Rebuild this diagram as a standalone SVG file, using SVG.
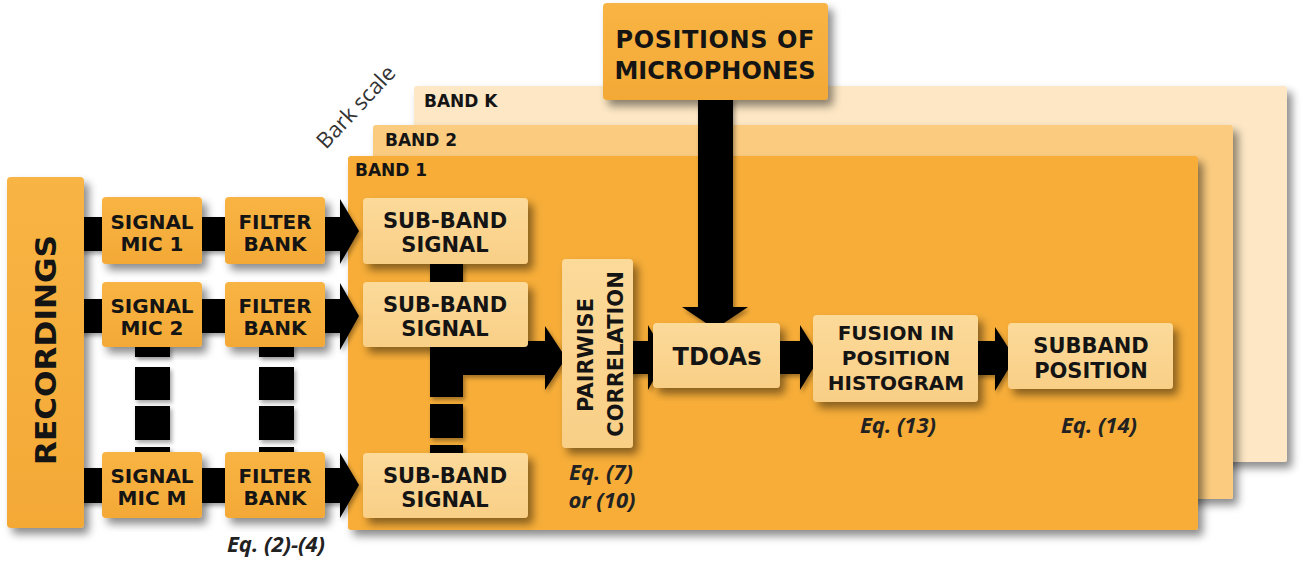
<svg xmlns="http://www.w3.org/2000/svg" width="1303" height="564" viewBox="0 0 1303 564">
<style>
.lbl{font-family:"DejaVu Sans",Verdana,sans-serif;font-weight:bold;fill:#141414;text-anchor:middle}
.band{font-family:"DejaVu Sans",Verdana,sans-serif;font-weight:bold;fill:#141414;font-size:17px}
.eq{font-family:"Open Sans","Liberation Sans",sans-serif;font-style:italic;font-weight:700;fill:#222;font-size:22px;text-anchor:middle}
.outer{fill:url(#gOut);filter:url(#sh)}
.inner{fill:url(#gIn);filter:url(#sh)}
.arr{fill:#000}
</style>
<defs>
<filter id="sh" x="-10%" y="-10%" width="130%" height="130%">
<feDropShadow dx="5" dy="6" stdDeviation="4" flood-color="#000" flood-opacity="0.45"/>
</filter>
<filter id="shs" x="-10%" y="-10%" width="130%" height="130%">
<feDropShadow dx="2" dy="3" stdDeviation="2" flood-color="#000" flood-opacity="0.35"/>
</filter>
<linearGradient id="gOut" x1="0" y1="0" x2="0" y2="1">
<stop offset="0" stop-color="#F8B444"/>
<stop offset="1" stop-color="#F4A936"/>
</linearGradient>
<linearGradient id="gIn" x1="0" y1="0" x2="0" y2="1">
<stop offset="0" stop-color="#FCDA9A"/>
<stop offset="1" stop-color="#F9CF86"/>
</linearGradient>
</defs>
<rect width="1303" height="564" fill="#fff"/>

<g id="bands">
<g id="bandK">
<rect x="414" y="86" width="873" height="376" rx="3" fill="#FDE7C4" filter="url(#sh)"/>
<text class="band" x="424" y="107">BAND K</text>
</g>
<g id="band2">
<rect x="373" y="125" width="860" height="374" rx="3" fill="#FBCC80" filter="url(#sh)"/>
<text class="band" x="385" y="146">BAND 2</text>
</g>
<g id="band1">
<rect x="348" y="156" width="850" height="374" rx="3" fill="#F7AD39" filter="url(#sh)"/>
<text class="band" x="355" y="176">BAND 1</text>
</g>
</g>

<text x="0" y="0" transform="translate(326,150) rotate(-47)" font-family="'Open Sans','Liberation Sans',sans-serif" font-size="22" fill="#333">Bark scale</text>

<g id="connectors" filter="url(#shs)">
<rect class="arr" x="79" y="217" width="25" height="34"/>
<rect class="arr" x="79" y="299" width="25" height="34"/>
<rect class="arr" x="79" y="468" width="25" height="35"/>
<rect class="arr" x="200" y="217" width="27" height="34"/>
<rect class="arr" x="200" y="299" width="27" height="34"/>
<rect class="arr" x="200" y="468" width="27" height="35"/>
<polygon class="arr" points="323,217 340,217 340,199 359,231 340,264 340,251 323,251"/>
<polygon class="arr" points="323,299 340,299 340,283 359,316 340,350 340,333 323,333"/>
<polygon class="arr" points="323,468 340,468 340,453 359,485 340,518 340,503 323,503"/>
<rect class="arr" x="135" y="345" width="35" height="12"/>
<rect class="arr" x="135" y="367" width="35" height="33"/>
<rect class="arr" x="135" y="406" width="35" height="34"/>
<rect class="arr" x="135" y="447" width="35" height="8"/>
<rect class="arr" x="259" y="345" width="35" height="12"/>
<rect class="arr" x="259" y="367" width="35" height="33"/>
<rect class="arr" x="259" y="406" width="35" height="34"/>
<rect class="arr" x="259" y="447" width="35" height="8"/>
<rect class="arr" x="430" y="262" width="33" height="22"/>
<rect class="arr" x="430" y="345" width="33" height="52"/>
<rect class="arr" x="430" y="404" width="33" height="34"/>
<rect class="arr" x="430" y="445" width="33" height="10"/>
<polygon class="arr" points="430,341 545,341 545,326 566,358 545,390 545,375 430,375"/>
<polygon class="arr" points="631,341 648,341 648,325 666,357 648,390 648,374 631,374"/>
<polygon class="arr" points="698,98 733,98 733,307 748,307 715,329 682,307 698,307"/>
<polygon class="arr" points="778,341 800,341 800,325 820,357 800,390 800,374 778,374"/>
<polygon class="arr" points="976,341 995,341 995,327 1015,358 995,391 995,375 976,375"/>
</g>

<g id="recordings">
<rect class="outer" x="7" y="177" width="77" height="351" rx="4"/>
<text class="lbl" font-size="29" transform="translate(56,350) rotate(-90)" textLength="230" lengthAdjust="spacingAndGlyphs">RECORDINGS</text>
</g>

<g id="mic1">
<rect class="outer" x="102" y="197" width="100" height="67" rx="4"/>
<text class="lbl" font-size="20" x="152" y="229">SIGNAL</text>
<text class="lbl" font-size="20" x="152" y="251">MIC 1</text>
</g>
<g id="mic2">
<rect class="outer" x="102" y="282" width="100" height="65" rx="4"/>
<text class="lbl" font-size="20" x="152" y="313">SIGNAL</text>
<text class="lbl" font-size="20" x="152" y="335">MIC 2</text>
</g>
<g id="micM">
<rect class="outer" x="102" y="452" width="100" height="66" rx="4"/>
<text class="lbl" font-size="20" x="152" y="483">SIGNAL</text>
<text class="lbl" font-size="20" x="152" y="505">MIC M</text>
</g>

<g id="filter1">
<rect class="outer" x="225" y="197" width="100" height="67" rx="4"/>
<text class="lbl" font-size="20" x="275" y="229">FILTER</text>
<text class="lbl" font-size="20" x="275" y="251">BANK</text>
</g>
<g id="filter2">
<rect class="outer" x="225" y="282" width="100" height="65" rx="4"/>
<text class="lbl" font-size="20" x="275" y="313">FILTER</text>
<text class="lbl" font-size="20" x="275" y="335">BANK</text>
</g>
<g id="filterM">
<rect class="outer" x="225" y="452" width="100" height="66" rx="4"/>
<text class="lbl" font-size="20" x="275" y="483">FILTER</text>
<text class="lbl" font-size="20" x="275" y="505">BANK</text>
</g>
<text class="eq" x="276" y="552">Eq. (2)-(4)</text>

<g id="subband1">
<rect class="inner" x="363" y="198" width="165" height="66" rx="4"/>
<text class="lbl" font-size="21" x="445" y="228">SUB-BAND</text>
<text class="lbl" font-size="21" x="445" y="252">SIGNAL</text>
</g>
<g id="subband2">
<rect class="inner" x="363" y="282" width="165" height="65" rx="4"/>
<text class="lbl" font-size="21" x="445" y="312">SUB-BAND</text>
<text class="lbl" font-size="21" x="445" y="336">SIGNAL</text>
</g>
<g id="subbandM">
<rect class="inner" x="363" y="453" width="165" height="65" rx="4"/>
<text class="lbl" font-size="21" x="445" y="483">SUB-BAND</text>
<text class="lbl" font-size="21" x="445" y="507">SIGNAL</text>
</g>

<g id="pairwise">
<rect class="inner" x="562" y="259" width="71" height="189" rx="4"/>
<text class="lbl" font-size="21" transform="translate(593,355) rotate(-90)">PAIRWISE</text>
<text class="lbl" font-size="21" transform="translate(623,354) rotate(-90)">CORRELATION</text>
</g>
<text class="eq" x="601" y="480" font-size="20">Eq. (7)</text>
<text class="eq" x="602" y="508" font-size="20">or (10)</text>

<g id="positions">
<rect class="outer" x="603" y="3" width="225" height="97" rx="4"/>
<text class="lbl" font-size="24" x="715" y="48" textLength="199">POSITIONS OF</text>
<text class="lbl" font-size="24" x="715" y="79">MICROPHONES</text>
</g>

<g id="tdoas">
<rect class="inner" x="653" y="323" width="127" height="65" rx="4"/>
<text class="lbl" font-size="24" x="717" y="365">TDOAs</text>
</g>

<g id="fusion">
<rect class="inner" x="813" y="315" width="165" height="87" rx="4"/>
<text class="lbl" font-size="20" x="896" y="340">FUSION IN</text>
<text class="lbl" font-size="20" x="896" y="365">POSITION</text>
<text class="lbl" font-size="20" x="896" y="390">HISTOGRAM</text>
</g>
<text class="eq" x="898" y="433">Eq. (13)</text>

<g id="subbandpos">
<rect class="inner" x="1008" y="323" width="165" height="66" rx="4"/>
<text class="lbl" font-size="21" x="1091" y="353">SUBBAND</text>
<text class="lbl" font-size="21" x="1091" y="378">POSITION</text>
</g>
<text class="eq" x="1099" y="433">Eq. (14)</text>
</svg>
